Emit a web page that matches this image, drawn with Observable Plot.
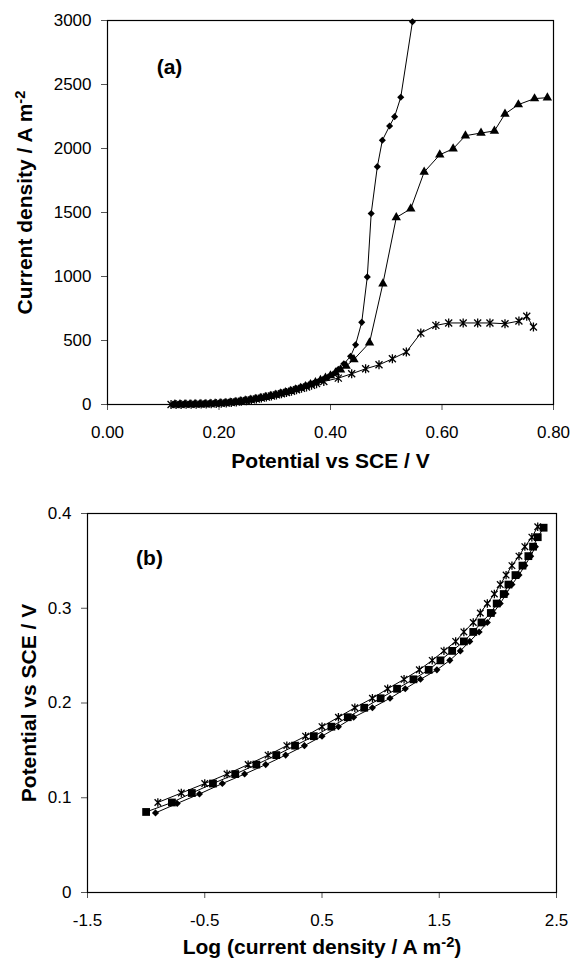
<!DOCTYPE html>
<html><head><meta charset="utf-8">
<script src="https://cdn.jsdelivr.net/npm/d3@7"></script>
<script src="https://cdn.jsdelivr.net/npm/@observablehq/plot@0.6"></script>
<style>
body{margin:0;background:#fff;}
#chart{width:572px;}
#chart svg{display:block;}
#chart [aria-label$="tick"]{stroke:#555;}
</style></head><body><div id="chart"></div>
<script>
// ---------- Panel (a): current density vs potential ----------
const aDiamondV = [0.117,0.126,0.135,0.144,0.153,0.162,0.171,0.180,0.189,0.198,0.207,0.216,0.225,0.234,0.243,0.252,0.261,0.270,0.279,0.288,0.297,0.306,0.315,0.324,0.333,0.342,0.351,0.360,0.369,0.378,0.387,0.396,0.405,0.414,0.424,0.436,0.445,0.456,0.466,0.473,0.484,0.493,0.506,0.515,0.526,0.547];
const aDiamondI = [0,0,0,1,1,2,3,4,6,8,10,13,17,21,26,32,39,46,53,61,70,79,89,99,110,122,135,149,164,180,198,216,238,275,318,376,467,642,997,1492,1858,2064,2176,2249,2400,2990];
const aTriangleV = [0.121,0.130,0.139,0.148,0.157,0.166,0.175,0.184,0.193,0.202,0.211,0.220,0.229,0.238,0.247,0.256,0.265,0.274,0.283,0.292,0.301,0.310,0.319,0.328,0.337,0.346,0.355,0.364,0.373,0.382,0.391,0.400,0.409,0.418,0.428,0.442,0.470,0.494,0.518,0.544,0.568,0.596,0.620,0.642,0.670,0.694,0.713,0.737,0.766,0.789];
const aTriangleI = [0,0,1,1,2,2,3,5,7,9,11,15,19,23,29,35,42,49,57,65,74,84,94,104,116,128,142,156,172,189,207,226,248,272,300,352,483,944,1461,1529,1816,1951,1998,2100,2121,2137,2270,2343,2390,2397];
const aStarV = [0.114,0.123,0.132,0.141,0.150,0.159,0.168,0.177,0.186,0.195,0.204,0.213,0.222,0.231,0.240,0.249,0.258,0.267,0.276,0.285,0.294,0.303,0.312,0.321,0.330,0.339,0.348,0.357,0.366,0.375,0.388,0.414,0.438,0.463,0.487,0.511,0.536,0.562,0.589,0.612,0.638,0.664,0.686,0.713,0.738,0.752,0.764];
const aStarI = [0,0,0,1,1,2,3,4,5,7,9,12,16,20,25,30,36,43,50,58,66,75,84,94,104,115,126,137,150,163,180,206,240,279,310,357,410,558,618,637,637,637,637,631,652,689,605];
const aXTicks = [0, 0.2, 0.4, 0.6, 0.8];
const aYTicks = [0, 500, 1000, 1500, 2000, 2500, 3000];
const aXTitle = "Potential vs SCE / V";
const aYTitle = "Current density / A m-2";
const aTag = "(a)";

// ---------- Panel (b): Tafel plot ----------
const bStarLog = [-0.90,-0.70,-0.50,-0.31,-0.13,0.04,0.20,0.36,0.50,0.64,0.78,0.93,1.06,1.20,1.33,1.44,1.54,1.64,1.71,1.79,1.85,1.91,1.97,2.02,2.07,2.12,2.18,2.23,2.29,2.34];
const bStarE   = [0.095,0.105,0.115,0.125,0.135,0.145,0.155,0.165,0.175,0.185,0.195,0.205,0.215,0.225,0.235,0.245,0.255,0.265,0.275,0.285,0.295,0.305,0.315,0.325,0.335,0.345,0.355,0.365,0.375,0.386];
const bSquareLog = [-1.00,-0.78,-0.61,-0.43,-0.24,-0.06,0.11,0.27,0.43,0.58,0.72,0.86,1.00,1.14,1.28,1.41,1.51,1.61,1.71,1.79,1.86,1.94,1.99,2.05,2.09,2.15,2.21,2.26,2.30,2.34,2.39];
const bSquareE   = [0.085,0.095,0.105,0.115,0.125,0.135,0.145,0.155,0.165,0.175,0.185,0.195,0.205,0.215,0.225,0.235,0.245,0.255,0.265,0.275,0.285,0.295,0.305,0.315,0.325,0.335,0.345,0.355,0.365,0.375,0.385];
const bDiamondLog = [-0.92,-0.735,-0.545,-0.35,-0.16,0.02,0.19,0.35,0.50,0.64,0.77,0.93,1.08,1.21,1.34,1.48,1.59,1.68,1.76,1.84,1.91,1.96,2.02,2.07,2.12,2.18,2.23,2.28,2.32];
const bDiamondE   = [0.084,0.094,0.104,0.115,0.125,0.135,0.145,0.155,0.165,0.175,0.185,0.195,0.205,0.215,0.225,0.235,0.245,0.255,0.265,0.275,0.285,0.295,0.305,0.315,0.325,0.335,0.345,0.355,0.365];
const bXTicks = [-1.5, -0.5, 0.5, 1.5, 2.5];
const bYTicks = [0, 0.1, 0.2, 0.3, 0.4];
const bXTitle = "Log (current density / A m-2)";
const bYTitle = "Potential vs SCE / V";
const bTag = "(b)";

// ---------- helpers ----------
const zip = (xs, ys) => xs.map((x, i) => ({x, y: ys[i]}));
const starSymbol = {
  draw(ctx, size) {
    const r = Math.sqrt(size / Math.PI), k = r * 0.78;
    ctx.moveTo(0, -r); ctx.lineTo(0, r);
    ctx.moveTo(-k, -k); ctx.lineTo(k, k);
    ctx.moveTo(-k, k); ctx.lineTo(k, -k);
  }
};
const FONT = "'Liberation Sans', Arial, Helvetica, sans-serif";
const style = {fontFamily: FONT, fontSize: "17px", color: "black", background: "white", overflow: "visible"};
const title = {textAnchor: "middle", lineAnchor: "middle", fontWeight: "bold", fontSize: 21, text: d => d};

function superscript(svg) {
  d3.select(svg).selectAll("text").filter(function () {
    return this.childElementCount === 0 && this.textContent.includes("m-2");
  }).each(function () {
    const s = this.textContent, idx = s.indexOf("-2");
    const before = s.slice(0, idx), after = s.slice(idx + 2);
    this.textContent = "";
    const t = d3.select(this);
    t.append("tspan").text(before);
    t.append("tspan").attr("dy", "-0.5em").attr("font-size", "0.7em").text("-2");
    if (after) t.append("tspan").attr("dy", "0.35em").text(after);
  });
}

// ---------- Panel (a) ----------
const aD = zip(aDiamondV, aDiamondI), aT = zip(aTriangleV, aTriangleI), aS = zip(aStarV, aStarI);
const plotA = Plot.plot({
  width: 572, height: 480,
  marginTop: 20, marginBottom: 76, marginLeft: 107, marginRight: 19,
  style,
  x: {domain: [0, 0.8], ticks: aXTicks, tickFormat: d => d.toFixed(2), tickSize: 6, tickPadding: 15, label: null},
  y: {domain: [0, 3000], ticks: aYTicks, tickFormat: d => String(d), tickSize: 6, tickPadding: 10, label: null},
  marks: [
    Plot.frame({stroke: "black", strokeWidth: 1.2}),
    Plot.line(aS, {x: "x", y: "y", stroke: "black", strokeWidth: 1}),
    Plot.line(aT, {x: "x", y: "y", stroke: "black", strokeWidth: 1}),
    Plot.line(aD, {x: "x", y: "y", stroke: "black", strokeWidth: 1}),
    Plot.dot(aS, {x: "x", y: "y", symbol: starSymbol, r: 4.5, fill: "none", stroke: "black", strokeWidth: 1.3}),
    Plot.dot(aT, {x: "x", y: "y", symbol: "triangle", r: 3.5, fill: "black", stroke: "none"}),
    Plot.dot(aD, {x: "x", y: "y", symbol: "diamond2", r: 3.2, fill: "black", stroke: "none"}),
    Plot.text([aTag], {...title, frameAnchor: "top-left", dx: 62, dy: 47}),
    Plot.text([aXTitle], {...title, frameAnchor: "bottom", dy: 57}),
    Plot.text([aYTitle], {...title, frameAnchor: "left", dx: -82, dy: -10, rotate: -90})
  ]
});
superscript(plotA);

// ---------- Panel (b) ----------
const bS = zip(bStarLog, bStarE), bQ = zip(bSquareLog, bSquareE), bD = zip(bDiamondLog, bDiamondE);
const plotB = Plot.plot({
  width: 572, height: 482,
  marginTop: 33, marginBottom: 70, marginLeft: 87, marginRight: 16,
  style,
  x: {domain: [-1.5, 2.5], ticks: bXTicks, tickFormat: d => d.toFixed(1), tickSize: 6, tickPadding: 15, label: null},
  y: {domain: [0, 0.4], ticks: bYTicks, tickFormat: d => d === 0 ? "0" : d.toFixed(1), tickSize: 6, tickPadding: 10, label: null},
  marks: [
    Plot.frame({stroke: "black", strokeWidth: 1.2}),
    Plot.line(bS, {x: "x", y: "y", stroke: "black", strokeWidth: 1}),
    Plot.line(bQ, {x: "x", y: "y", stroke: "black", strokeWidth: 1}),
    Plot.line(bD, {x: "x", y: "y", stroke: "black", strokeWidth: 1}),
    Plot.dot(bS, {x: "x", y: "y", symbol: starSymbol, r: 4.2, fill: "none", stroke: "black", strokeWidth: 1.3}),
    Plot.dot(bQ, {x: "x", y: "y", symbol: "square", r: 4.4, fill: "black", stroke: "none"}),
    Plot.dot(bD, {x: "x", y: "y", symbol: "diamond2", r: 3.2, fill: "black", stroke: "none"}),
    Plot.text([bTag], {...title, frameAnchor: "top-left", dx: 62, dy: 45}),
    Plot.text([bXTitle], {...title, frameAnchor: "bottom", dy: 55}),
    Plot.text([bYTitle], {...title, frameAnchor: "left", dx: -58, dy: 0, rotate: -90})
  ]
});
superscript(plotB);

const host = document.getElementById("chart");
host.appendChild(plotA);
host.appendChild(plotB);
</script>
</body></html>
